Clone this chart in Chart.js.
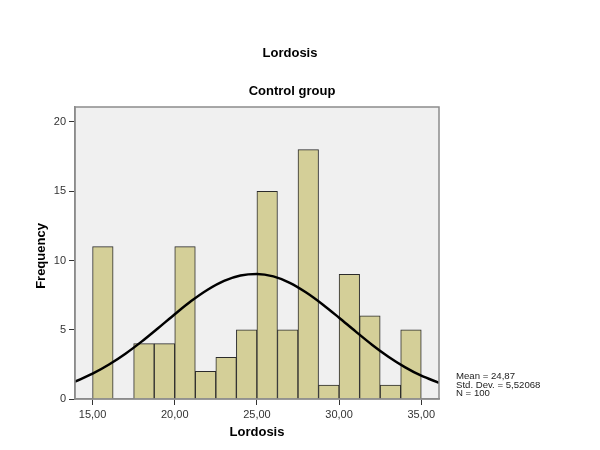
<!DOCTYPE html>
<html>
<head>
<meta charset="utf-8">
<script src="https://cdn.jsdelivr.net/npm/chart.js@4/dist/chart.umd.min.js"></script>
<style>
  html, body { margin: 0; padding: 0; background: #ffffff; }
  #wrap { width: 600px; height: 450px; position: relative; }
</style>
</head>
<body>
<div id="wrap"><canvas id="c" width="600" height="450"></canvas></div>
<script>
// Histogram bins (centres, width 1.25) and frequencies
const binCenters = [15.625, 16.875, 18.125, 19.375, 20.625, 21.875, 23.125, 24.375,
                    25.625, 26.875, 28.125, 29.375, 30.625, 31.875, 33.125, 34.375];
const frequencies = [11, 0, 4, 4, 11, 2, 3, 5, 15, 5, 18, 1, 9, 6, 1, 5];

// Normal curve
const curveX = [13.93, 15, 16, 17, 18, 19, 20, 21, 22, 23, 24, 25, 26, 27, 28, 29, 30, 31, 32, 33, 34, 35, 36.08];
const curveY = [1.25, 1.83, 2.49, 3.27, 4.16, 5.13, 6.12, 7.07, 7.89, 8.53, 8.92, 9.03, 8.85, 8.39, 7.69, 6.83, 5.87, 4.88, 3.92, 3.05, 2.30, 1.68, 1.17];

const xTicks = [15, 20, 25, 30, 35];
const yTicks = [0, 5, 10, 15, 20];

const titleText = "Lordosis";
const subtitleText = "Control group";
const xTitle = "Lordosis";
const yTitle = "Frequency";
const statsLines = ["Mean = 24,87", "Std. Dev. = 5,52068", "N = 100"];

const fmt = v => v.toFixed(2).replace('.', ',');

const decor = {
  id: 'decor',
  beforeDraw(chart) {
    const { ctx, chartArea: a } = chart;
    ctx.save();
    ctx.fillStyle = '#f0f0f0';
    ctx.fillRect(a.left, a.top, a.right - a.left, a.bottom - a.top);
    ctx.restore();
  },
  afterDraw(chart) {
    const { ctx, chartArea: a } = chart;
    ctx.save();
    // plot frame
    ctx.strokeStyle = '#8c8c8c';
    ctx.lineWidth = 1.5;
    ctx.strokeRect(a.left, a.top, a.right - a.left, a.bottom - a.top);
    // titles
    ctx.fillStyle = '#000';
    ctx.textAlign = 'center';
    ctx.textBaseline = 'middle';
    ctx.font = 'bold 13px "Liberation Sans", Arial, sans-serif';
    ctx.fillText(titleText, 290, 53);
    ctx.fillText(subtitleText, 292, 91);
    ctx.fillText(xTitle, 257, 432);
    ctx.save();
    ctx.translate(41, 256);
    ctx.rotate(-Math.PI / 2);
    ctx.fillText(yTitle, 0, 0);
    ctx.restore();
    // stats
    ctx.font = '8.5px "Liberation Sans", Arial, sans-serif';
    ctx.textAlign = 'left';
    ctx.textBaseline = 'alphabetic';
    ctx.fillStyle = '#222';
    statsLines.forEach((s, i) => {
      ctx.save();
      ctx.translate(456, 379.3 + i * 8.2);
      ctx.scale(1.13, 1);
      ctx.fillText(s, 0, 0);
      ctx.restore();
    });
    ctx.restore();
  }
};

new Chart(document.getElementById('c'), {
  type: 'bar',
  data: {
    datasets: [
      {
        type: 'line',
        data: curveX.map((x, i) => ({ x, y: curveY[i] })),
        borderColor: '#000',
        borderWidth: 2.5,
        pointRadius: 0,
        tension: 0.4,
        cubicInterpolationMode: 'monotone',
        fill: false,
        order: 0
      },
      {
        type: 'bar',
        data: binCenters.map((x, i) => ({ x, y: frequencies[i] })),
        backgroundColor: '#d4cf98',
        borderColor: '#2b2b2b',
        borderWidth: 1,
        barPercentage: 1,
        categoryPercentage: 1,
        grouped: false,
        order: 1
      }
    ]
  },
  options: {
    responsive: false,
    animation: false,
    layout: { padding: { top: 107, right: 161, left: 0, bottom: 0 } },
    plugins: { legend: { display: false }, tooltip: { enabled: false } },
    scales: {
      x: {
        type: 'linear',
        min: 13.93,
        max: 36.08,
        offset: false,
        afterBuildTicks: s => { s.ticks = xTicks.map(v => ({ value: v })); },
        afterFit: s => { s.height = 51; },
        grid: { display: true, offset: false, drawOnChartArea: false, drawTicks: true, tickLength: 6, color: '#333', tickColor: '#333' },
        border: { display: true, color: '#888', width: 1.5 },
        ticks: { callback: v => fmt(v), color: '#333', padding: 3, maxRotation: 0,
                 font: { family: '"Liberation Sans", Arial, sans-serif', size: 11 } }
      },
      y: {
        type: 'linear',
        min: 0,
        max: 21.08,
        afterBuildTicks: s => { s.ticks = yTicks.map(v => ({ value: v })); },
        afterFit: s => { s.width = 75; },
        grid: { display: true, drawOnChartArea: false, drawTicks: true, tickLength: 6, color: '#333', tickColor: '#333' },
        border: { display: true, color: '#888', width: 1.5 },
        ticks: { color: '#333', padding: 3,
                 font: { family: '"Liberation Sans", Arial, sans-serif', size: 11 } }
      }
    }
  },
  plugins: [decor]
});
</script>
</body>
</html>
